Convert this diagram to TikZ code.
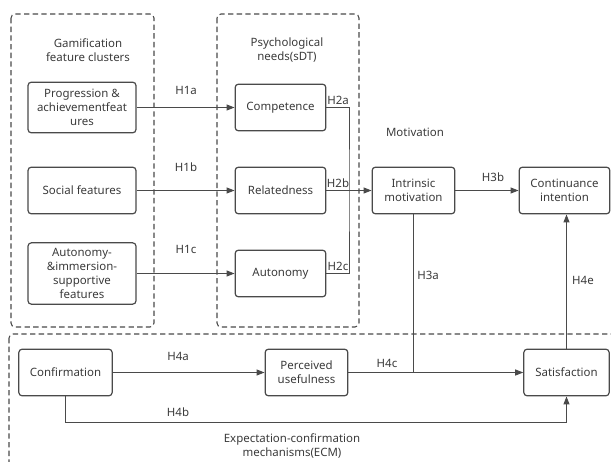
\documentclass[tikz,border=0pt]{standalone}
\usepackage{fontspec}
\setmainfont{Noto Sans}
\usetikzlibrary{arrows.meta,positioning,calc}
\definecolor{linegray}{HTML}{4A4A4A}
\definecolor{textgray}{HTML}{3A3A3A}
\tikzset{
conbox/.style={draw=linegray, line width=0.9pt, rounded corners=2.5pt, align=center, text=textgray, inner sep=1pt, font=\fontsize{8.6}{10.6}\selectfont},
featbox/.style={conbox, minimum width=81pt},
needbox/.style={conbox, minimum width=68pt, minimum height=35pt},
groupbox/.style={draw=linegray, line width=0.8pt, dash pattern=on 4pt off 2.5pt, rounded corners=3pt},
grouptitle/.style={align=center, text=textgray, font=\fontsize{8.6}{10.6}\selectfont},
hyplabel/.style={text=textgray, inner sep=1pt, font=\fontsize{8.6}{10.6}\selectfont},
hyparrow/.style={draw=linegray, line width=0.75pt, -{Triangle[length=6pt,width=4.5pt]}},
hypline/.style={draw=linegray, line width=0.75pt}
}

\begin{document}
\begin{tikzpicture}[x=0.75pt, y=-0.75pt]
\useasboundingbox (0,0) rectangle (611,461);
\clip (0,0) rectangle (611,461);

% construct groups
\draw[groupbox] (11,14) rectangle (154,327);
\draw[groupbox] (217,14) rectangle (359,327);
\draw[groupbox] (9,334) rectangle (660,520);
\node[grouptitle] (gamtitle) at (88,50) {Gamification\\feature clusters};
\node[grouptitle] (sdttitle) at (287,50) {Psychological\\needs(sDT)};
\node[grouptitle] (mottitle) at (415,132) {Motivation};
\node[grouptitle] (ecmtitle) at (292,446) {Expectation-confirmation\\mechanisms(ECM)};

% gamification features
\node[featbox, minimum height=38pt] (prog) at (82,107.5) {Progression \&\\achievementfeat\\ures};
\node[featbox, minimum height=35pt] (social) at (82,190.5) {Social features};
\node[featbox, minimum height=46pt] (autfeat) at (82,273.5) {Autonomy-\\\&immersion-\\supportive\\features};

% psychological needs
\node[needbox] (comp) at (280.5,107.5) {Competence};
\node[needbox] (relat) at (280.5,190.5) {Relatedness};
\node[needbox] (auton) at (280.5,273.5) {Autonomy};

% motivation and outcome
\node[conbox, minimum width=62pt, minimum height=35pt] (intr) at (413.5,190.5) {Intrinsic\\motivation};
\node[conbox, minimum width=68pt, minimum height=35pt] (cont) at (564.5,190.5) {Continuance\\intention};

% ECM
\node[conbox, minimum width=70pt, minimum height=35pt] (conf) at (65.5,372.5) {Confirmation};
\node[conbox, minimum width=62pt, minimum height=35pt] (useful) at (306.5,372.5) {Perceived\\usefulness};
\node[conbox, minimum width=64pt, minimum height=35pt] (satis) at (566.5,372.5) {Satisfaction};

\coordinate (needjoin) at (349,190.5);
\coordinate (h3ajoin) at (413.5,372.5);
\coordinate (h4bline) at (0,422);

\draw[hyparrow] (prog) -- (comp);
\draw[hyparrow] (social) -- (relat);
\draw[hyparrow] (autfeat) -- (auton);
\draw[hypline] (comp.east) -| (needjoin) |- (auton.east);
\draw[hyparrow] (relat) -- (intr);
\draw[hyparrow] (intr) -- (cont);
\draw[hypline] (intr.south) -- (h3ajoin);
\draw[hyparrow] (conf) -- (useful);
\draw[hyparrow] (useful) -- (satis);
\draw[hyparrow] (satis.north) -- (satis.north |- cont.south);
\draw[hyparrow] (conf.south) -- (conf.south |- h4bline) -| (satis.south);

% hypothesis labels
\node[hyplabel] (h1a) at (186,90) {H1a};
\node[hyplabel] (h1b) at (186,167) {H1b};
\node[hyplabel] (h1c) at (186,249) {H1c};
\node[hyplabel] (h2a) at (338,100) {H2a};
\node[hyplabel] (h2b) at (338,183) {H2b};
\node[hyplabel] (h2c) at (338,266) {H2c};
\node[hyplabel] (h3b) at (493,177) {H3b};
\node[hyplabel] (h3a) at (428,275) {H3a};
\node[hyplabel] (h4e) at (583,280) {H4e};
\node[hyplabel] (h4a) at (178,356) {H4a};
\node[hyplabel] (h4c) at (387,363) {H4c};
\node[hyplabel] (h4b) at (178,412) {H4b};
\end{tikzpicture}
\end{document}
